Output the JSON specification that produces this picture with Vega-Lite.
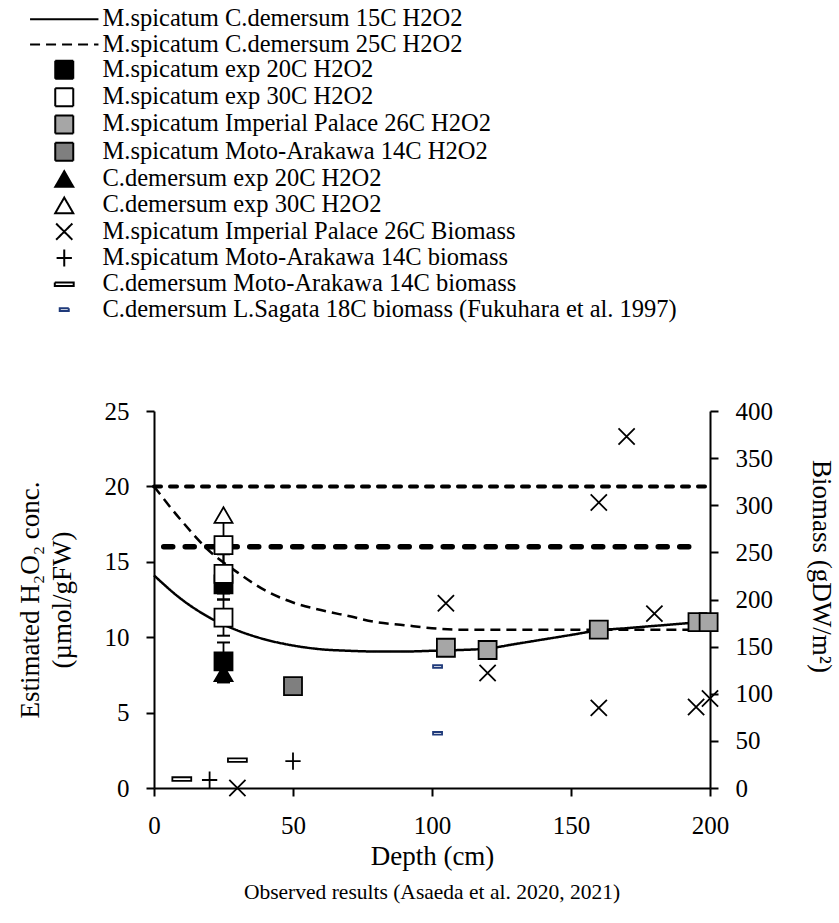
{
  "$schema": "https://vega.github.io/schema/vega-lite/v6.json",
  "width": 556,
  "height": 377,
  "autosize": {"type": "none"},
  "padding": {"left": 154, "top": 411, "right": 129, "bottom": 135},
  "background": "white",
  "title": {"text": "Observed results (Asaeda et al. 2020, 2021)", "orient": "bottom", "anchor": "middle", "font": "Liberation Serif", "fontSize": 21.5, "fontWeight": "normal", "color": "black", "offset": 13},
  "config": {
    "view": {"stroke": null},
    "axis": {"domainColor": "black", "domainWidth": 2, "tickColor": "black", "tickWidth": 2, "tickSize": 8, "labelFont": "Liberation Serif", "labelFontSize": 25, "labelColor": "black", "labelPadding": 17, "titleFont": "Liberation Serif", "titleFontSize": 27, "titleFontWeight": "normal", "titleColor": "black", "grid": false, "labelFlush": false, "labelOverlap": false},
    "legend": {"orient": "none", "legendX": -102, "legendY": -404, "symbolSize": 324, "symbolStrokeWidth": 2, "labelFont": "Liberation Serif", "labelFontSize": 24.5, "labelColor": "black", "labelLimit": 900, "labelOffset": 26, "rowPadding": 0.3, "padding": 0, "symbolOpacity": 1}
  },
  "datasets": {
    "curves": [
      {"series": "M.spicatum C.demersum 15C H2O2", "depth": 0, "h2o2": 14.1},
      {"series": "M.spicatum C.demersum 15C H2O2", "depth": 10, "h2o2": 12.5},
      {"series": "M.spicatum C.demersum 15C H2O2", "depth": 20, "h2o2": 11.3},
      {"series": "M.spicatum C.demersum 15C H2O2", "depth": 30, "h2o2": 10.45},
      {"series": "M.spicatum C.demersum 15C H2O2", "depth": 40, "h2o2": 9.85},
      {"series": "M.spicatum C.demersum 15C H2O2", "depth": 50, "h2o2": 9.45},
      {"series": "M.spicatum C.demersum 15C H2O2", "depth": 60, "h2o2": 9.2},
      {"series": "M.spicatum C.demersum 15C H2O2", "depth": 70, "h2o2": 9.1},
      {"series": "M.spicatum C.demersum 15C H2O2", "depth": 80, "h2o2": 9.05},
      {"series": "M.spicatum C.demersum 15C H2O2", "depth": 90, "h2o2": 9.05},
      {"series": "M.spicatum C.demersum 15C H2O2", "depth": 100, "h2o2": 9.1},
      {"series": "M.spicatum C.demersum 15C H2O2", "depth": 110, "h2o2": 9.15},
      {"series": "M.spicatum C.demersum 15C H2O2", "depth": 120, "h2o2": 9.25},
      {"series": "M.spicatum C.demersum 15C H2O2", "depth": 130, "h2o2": 9.55},
      {"series": "M.spicatum C.demersum 15C H2O2", "depth": 140, "h2o2": 9.85},
      {"series": "M.spicatum C.demersum 15C H2O2", "depth": 150, "h2o2": 10.15},
      {"series": "M.spicatum C.demersum 15C H2O2", "depth": 160, "h2o2": 10.45},
      {"series": "M.spicatum C.demersum 15C H2O2", "depth": 170, "h2o2": 10.6},
      {"series": "M.spicatum C.demersum 15C H2O2", "depth": 180, "h2o2": 10.75},
      {"series": "M.spicatum C.demersum 15C H2O2", "depth": 190, "h2o2": 10.9},
      {"series": "M.spicatum C.demersum 15C H2O2", "depth": 200, "h2o2": 11.05},
      {"series": "M.spicatum C.demersum 25C H2O2", "depth": 0, "h2o2": 20.0},
      {"series": "M.spicatum C.demersum 25C H2O2", "depth": 10, "h2o2": 17.7},
      {"series": "M.spicatum C.demersum 25C H2O2", "depth": 20, "h2o2": 15.7},
      {"series": "M.spicatum C.demersum 25C H2O2", "depth": 30, "h2o2": 14.3},
      {"series": "M.spicatum C.demersum 25C H2O2", "depth": 40, "h2o2": 13.1},
      {"series": "M.spicatum C.demersum 25C H2O2", "depth": 50, "h2o2": 12.3},
      {"series": "M.spicatum C.demersum 25C H2O2", "depth": 60, "h2o2": 11.8},
      {"series": "M.spicatum C.demersum 25C H2O2", "depth": 70, "h2o2": 11.4},
      {"series": "M.spicatum C.demersum 25C H2O2", "depth": 80, "h2o2": 11.0},
      {"series": "M.spicatum C.demersum 25C H2O2", "depth": 90, "h2o2": 10.8},
      {"series": "M.spicatum C.demersum 25C H2O2", "depth": 100, "h2o2": 10.6},
      {"series": "M.spicatum C.demersum 25C H2O2", "depth": 110, "h2o2": 10.5},
      {"series": "M.spicatum C.demersum 25C H2O2", "depth": 120, "h2o2": 10.5},
      {"series": "M.spicatum C.demersum 25C H2O2", "depth": 140, "h2o2": 10.5},
      {"series": "M.spicatum C.demersum 25C H2O2", "depth": 160, "h2o2": 10.5},
      {"series": "M.spicatum C.demersum 25C H2O2", "depth": 180, "h2o2": 10.5},
      {"series": "M.spicatum C.demersum 25C H2O2", "depth": 200, "h2o2": 10.5}
    ],
    "h2o2pts": [
      {"series": "M.spicatum Imperial Palace 26C H2O2", "depth": 105, "h2o2": 9.3, "lo": null, "hi": null},
      {"series": "M.spicatum Imperial Palace 26C H2O2", "depth": 120, "h2o2": 9.15, "lo": null, "hi": null},
      {"series": "M.spicatum Imperial Palace 26C H2O2", "depth": 160, "h2o2": 10.5, "lo": null, "hi": null},
      {"series": "M.spicatum Imperial Palace 26C H2O2", "depth": 195.5, "h2o2": 11.0, "lo": null, "hi": null},
      {"series": "M.spicatum Imperial Palace 26C H2O2", "depth": 199.5, "h2o2": 11.0, "lo": null, "hi": null},
      {"series": "M.spicatum Moto-Arakawa 14C H2O2", "depth": 50, "h2o2": 6.75, "lo": null, "hi": null},
      {"series": "C.demersum exp 20C H2O2", "depth": 25, "h2o2": 7.6, "lo": 7.0, "hi": 8.2},
      {"series": "M.spicatum exp 20C H2O2", "depth": 25, "h2o2": 13.5, "lo": 12.5, "hi": 14.5},
      {"series": "M.spicatum exp 20C H2O2", "depth": 25, "h2o2": 8.4, "lo": 7.15, "hi": 9.65},
      {"series": "M.spicatum exp 30C H2O2", "depth": 25, "h2o2": 16.1, "lo": 14.5, "hi": 17.7},
      {"series": "M.spicatum exp 30C H2O2", "depth": 25, "h2o2": 14.2, "lo": 12.9, "hi": 15.5},
      {"series": "M.spicatum exp 30C H2O2", "depth": 25, "h2o2": 11.3, "lo": 10.1, "hi": 12.5},
      {"series": "C.demersum exp 30C H2O2", "depth": 25, "h2o2": 18.1, "lo": null, "hi": null}
    ],
    "biomass": [
      {"series": "M.spicatum Imperial Palace 26C Biomass", "depth": 30, "biomass": 0},
      {"series": "M.spicatum Imperial Palace 26C Biomass", "depth": 105, "biomass": 196},
      {"series": "M.spicatum Imperial Palace 26C Biomass", "depth": 120, "biomass": 122},
      {"series": "M.spicatum Imperial Palace 26C Biomass", "depth": 160, "biomass": 85},
      {"series": "M.spicatum Imperial Palace 26C Biomass", "depth": 160, "biomass": 303},
      {"series": "M.spicatum Imperial Palace 26C Biomass", "depth": 170, "biomass": 373},
      {"series": "M.spicatum Imperial Palace 26C Biomass", "depth": 180, "biomass": 185},
      {"series": "M.spicatum Imperial Palace 26C Biomass", "depth": 195, "biomass": 86},
      {"series": "M.spicatum Imperial Palace 26C Biomass", "depth": 200, "biomass": 95},
      {"series": "M.spicatum Moto-Arakawa 14C biomass", "depth": 20, "biomass": 8.5},
      {"series": "M.spicatum Moto-Arakawa 14C biomass", "depth": 50, "biomass": 28.5},
      {"series": "C.demersum Moto-Arakawa 14C biomass", "depth": 10, "biomass": 9.5},
      {"series": "C.demersum Moto-Arakawa 14C biomass", "depth": 30, "biomass": 29.6},
      {"series": "C.demersum L.Sagata 18C biomass (Fukuhara et al. 1997)", "depth": 102, "biomass": 129},
      {"series": "C.demersum L.Sagata 18C biomass (Fukuhara et al. 1997)", "depth": 102, "biomass": 58}
    ]
  },
  "layer": [
    {
      "layer": [
        {
          "data": {"name": "curves"},
          "mark": {"type": "line", "interpolate": "monotone", "strokeWidth": 2.5},
          "encoding": {
            "x": {"field": "depth", "type": "quantitative", "scale": {"domain": [0, 200], "nice": false}, "axis": {"values": [0, 50, 100, 150, 200], "title": "Depth (cm)", "titleBaseline": "middle", "titleY": 68, "titleColor": "black"}},
            "y": {"field": "h2o2", "type": "quantitative", "scale": {"domain": [0, 25], "nice": false}, "axis": {"orient": "left", "values": [0, 5, 10, 15, 20, 25], "title": ["Estimated H₂O₂ conc.", "(µmol/gFW)"], "titleColor": "black", "titleBaseline": "middle", "titleX": -124, "titleLineHeight": 32}},
            "stroke": {"field": "series", "type": "nominal", "legend": {"title": null}, "scale": {"domain": ["M.spicatum C.demersum 15C H2O2", "M.spicatum C.demersum 25C H2O2", "M.spicatum exp 20C H2O2", "M.spicatum exp 30C H2O2", "M.spicatum Imperial Palace 26C H2O2", "M.spicatum Moto-Arakawa 14C H2O2", "C.demersum exp 20C H2O2", "C.demersum exp 30C H2O2", "M.spicatum Imperial Palace 26C Biomass", "M.spicatum Moto-Arakawa 14C biomass", "C.demersum Moto-Arakawa 14C biomass", "C.demersum L.Sagata 18C biomass (Fukuhara et al. 1997)"], "range": ["black", "black", "black", "black", "black", "black", "black", "black", "black", "black", "black", "#1F3A7A"]}},
            "strokeDash": {"field": "series", "type": "nominal", "legend": {"title": null}, "scale": {"domain": ["M.spicatum C.demersum 15C H2O2", "M.spicatum C.demersum 25C H2O2", "M.spicatum exp 20C H2O2", "M.spicatum exp 30C H2O2", "M.spicatum Imperial Palace 26C H2O2", "M.spicatum Moto-Arakawa 14C H2O2", "C.demersum exp 20C H2O2", "C.demersum exp 30C H2O2", "M.spicatum Imperial Palace 26C Biomass", "M.spicatum Moto-Arakawa 14C biomass", "C.demersum Moto-Arakawa 14C biomass", "C.demersum L.Sagata 18C biomass (Fukuhara et al. 1997)"], "range": [[1, 0], [10, 6], [1, 0], [1, 0], [1, 0], [1, 0], [1, 0], [1, 0], [1, 0], [1, 0], [1, 0], [1, 0]]}}
          }
        },
        {
          "data": {"values": [{}]},
          "mark": {"type": "rule", "strokeWidth": 4, "strokeDash": [7, 9], "strokeCap": "round", "color": "black"},
          "encoding": {"x": {"datum": 0, "type": "quantitative"}, "x2": {"datum": 200}, "y": {"datum": 20, "type": "quantitative"}}
        },
        {
          "data": {"values": [{}]},
          "mark": {"type": "rule", "strokeWidth": 5.5, "strokeDash": [9, 12.5], "strokeCap": "round", "color": "black"},
          "encoding": {"x": {"datum": 3.5, "type": "quantitative"}, "x2": {"datum": 196.5}, "y": {"datum": 16, "type": "quantitative"}}
        },
        {
          "data": {"name": "h2o2pts"},
          "transform": [{"filter": "datum.lo != null"}],
          "mark": {"type": "rule", "strokeWidth": 1.8, "color": "black"},
          "encoding": {
            "x": {"field": "depth", "type": "quantitative"},
            "y": {"field": "lo", "type": "quantitative"},
            "y2": {"field": "hi"}
          }
        },
        {
          "data": {"name": "h2o2pts"},
          "transform": [{"filter": "datum.lo != null"}, {"fold": ["lo", "hi"], "as": ["end", "val"]}],
          "mark": {"type": "tick", "orient": "horizontal", "size": 13, "thickness": 2, "color": "black", "opacity": 1},
          "encoding": {
            "x": {"field": "depth", "type": "quantitative"},
            "y": {"field": "val", "type": "quantitative"}
          }
        },
        {
          "data": {"name": "h2o2pts"},
          "mark": {"type": "point", "size": 324, "strokeWidth": 1.8, "opacity": 1},
          "encoding": {
            "x": {"field": "depth", "type": "quantitative"},
            "y": {"field": "h2o2", "type": "quantitative"},
            "shape": {"field": "series", "type": "nominal", "legend": {"title": null}, "scale": {"domain": ["M.spicatum C.demersum 15C H2O2", "M.spicatum C.demersum 25C H2O2", "M.spicatum exp 20C H2O2", "M.spicatum exp 30C H2O2", "M.spicatum Imperial Palace 26C H2O2", "M.spicatum Moto-Arakawa 14C H2O2", "C.demersum exp 20C H2O2", "C.demersum exp 30C H2O2", "M.spicatum Imperial Palace 26C Biomass", "M.spicatum Moto-Arakawa 14C biomass", "C.demersum Moto-Arakawa 14C biomass", "C.demersum L.Sagata 18C biomass (Fukuhara et al. 1997)"], "range": ["M-3.8,0H3.8", "M-3.8,0H3.8", "square", "square", "square", "square", "triangle-up", "triangle-up", "M-0.9,-0.9L0.9,0.9M-0.9,0.9L0.9,-0.9", "M-0.85,0H0.85M0,-0.95V0.95", "M-1.05,-0.2H1.05V0.2H-1.05Z", "M-0.5,-0.15H0.5V0.15H-0.5Z"]}},
            "fill": {"field": "series", "type": "nominal", "legend": {"title": null}, "scale": {"domain": ["M.spicatum C.demersum 15C H2O2", "M.spicatum C.demersum 25C H2O2", "M.spicatum exp 20C H2O2", "M.spicatum exp 30C H2O2", "M.spicatum Imperial Palace 26C H2O2", "M.spicatum Moto-Arakawa 14C H2O2", "C.demersum exp 20C H2O2", "C.demersum exp 30C H2O2", "M.spicatum Imperial Palace 26C Biomass", "M.spicatum Moto-Arakawa 14C biomass", "C.demersum Moto-Arakawa 14C biomass", "C.demersum L.Sagata 18C biomass (Fukuhara et al. 1997)"], "range": ["transparent", "transparent", "black", "white", "#A6A6A6", "#7F7F7F", "black", "white", "transparent", "transparent", "white", "white"]}},
            "stroke": {"field": "series", "type": "nominal", "legend": {"title": null}}
          }
        }
      ]
    },
    {
      "data": {"name": "biomass"},
      "mark": {"type": "point", "size": 324, "strokeWidth": 1.8, "opacity": 1},
      "encoding": {
        "x": {"field": "depth", "type": "quantitative"},
        "y": {"field": "biomass", "type": "quantitative", "scale": {"domain": [0, 400], "nice": false}, "axis": {"orient": "right", "values": [0, 50, 100, 150, 200, 250, 300, 350, 400], "title": "Biomass (gDW/m²)", "titleAngle": 90, "titleColor": "black", "titleBaseline": "middle", "titleX": 110, "titleY": 155}},
        "shape": {"field": "series", "type": "nominal", "legend": {"title": null}},
        "fill": {"field": "series", "type": "nominal", "legend": {"title": null}},
        "stroke": {"field": "series", "type": "nominal", "legend": {"title": null}}
      }
    }
  ],
  "resolve": {"scale": {"y": "independent"}}
}
